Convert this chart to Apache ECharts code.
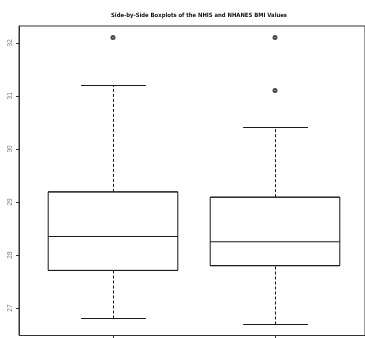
<!DOCTYPE html>
<html>
<head>
<meta charset="utf-8">
<script src="https://cdn.jsdelivr.net/npm/echarts@6/dist/echarts.min.js"></script>
<style>
  html, body { margin: 0; padding: 0; background: #fff; }
  #chart { width: 365px; height: 338px; }
</style>
</head>
<body>
<div id="chart"></div>
<script>
// BMI summaries for the two surveys
const groups = ['NHIS', 'NHANES'];
const lowerWhisker = [26.8, 26.7];
const q1 = [27.71, 27.8];
const median = [28.35, 28.25];
const q3 = [29.19, 29.09];
const upperWhisker = [31.19, 30.4];
const outliers = [
  [0, 32.1],
  [1, 32.1],
  [1, 31.1]
];
const yTicks = [27, 28, 29, 30, 31, 32];

const yMin = 26.484, yMax = 32.316;
const ink = '#1a1a1a';

const chart = echarts.init(document.getElementById('chart'), null, { renderer: 'canvas' });

const boxData = groups.map((g, i) => [q1[i], q1[i], median[i], q3[i], q3[i]]);
const whiskerData = groups.map((g, i) => [i, lowerWhisker[i], q1[i], q3[i], upperWhisker[i]]);

// snap a coordinate to the pixel centre so 1px strokes stay crisp
const crisp = v => Math.round(v - 0.5) + 0.5;

chart.setOption({
  animation: false,
  title: {
    text: 'Side-by-Side Boxplots of the NHIS and NHANES BMI Values',
    left: 194, top: 7, textAlign: 'center',
    textStyle: { fontFamily: '"DejaVu Sans Condensed", "Liberation Sans", sans-serif', fontWeight: 'bold', fontSize: 5.9, color: '#111' }
  },
  grid: [
    { left: 32, top: 26, width: 324, height: 309.5 },
    { left: 19, top: 26, width: 350, height: 309.5, show: true, borderColor: '#333', borderWidth: 1, backgroundColor: 'transparent' }
  ],
  xAxis: [
    {
      type: 'category', data: groups, gridIndex: 0, boundaryGap: true,
      axisLine: { show: false }, axisLabel: { show: false },
      axisTick: { show: true, alignWithLabel: true, length: 4, lineStyle: { color: '#333' } },
      splitLine: { show: false }
    },
    { type: 'value', gridIndex: 1, min: 0, max: 1, show: false }
  ],
  yAxis: [
    {
      type: 'value', gridIndex: 0, min: yMin, max: yMax, offset: 13,
      axisLine: { show: true, lineStyle: { color: '#333', width: 1 } },
      axisTick: { show: true, length: 3, lineStyle: { color: '#333' }, customValues: yTicks },
      axisLabel: {
        show: true, rotate: 90, margin: 5, fontSize: 6.5, color: '#777',
        fontFamily: 'Liberation Sans', customValues: yTicks,
        formatter: v => String(v)
      },
      splitLine: { show: false }
    },
    { type: 'value', gridIndex: 1, min: 0, max: 1, show: false }
  ],
  series: [
    {
      type: 'boxplot', xAxisIndex: 0, yAxisIndex: 0,
      boxWidth: ['80%', '80%'],
      itemStyle: { color: 'transparent', borderColor: ink, borderWidth: 1 },
      data: boxData
    },
    {
      type: 'custom', xAxisIndex: 0, yAxisIndex: 0,
      data: whiskerData,
      encode: { x: 0, y: [1, 2, 3, 4] },
      renderItem: (params, api) => {
        const c = api.value(0);
        const lo = api.coord([c, api.value(1)]);
        const b = api.coord([c, api.value(2)]);
        const t = api.coord([c, api.value(3)]);
        const hi = api.coord([c, api.value(4)]);
        const half = api.size([1, 0])[0] * 0.2;
        const x = crisp(lo[0]);
        const yLo = crisp(lo[1]), yHi = crisp(hi[1]);
        const dash = { stroke: ink, lineWidth: 1, lineDash: [3, 2] };
        const solid = { stroke: ink, lineWidth: 1 };
        return {
          type: 'group',
          children: [
            { type: 'line', shape: { x1: x, y1: yLo, x2: x, y2: b[1] }, style: dash },
            { type: 'line', shape: { x1: x, y1: t[1], x2: x, y2: yHi }, style: dash },
            { type: 'line', shape: { x1: x - half, y1: yLo, x2: x + half, y2: yLo }, style: solid },
            { type: 'line', shape: { x1: x - half, y1: yHi, x2: x + half, y2: yHi }, style: solid }
          ]
        };
      }
    },
    {
      type: 'scatter', xAxisIndex: 0, yAxisIndex: 0,
      symbol: 'emptyCircle', symbolSize: 3,
      itemStyle: { color: ink, borderColor: ink, borderWidth: 0.8 },
      data: outliers
    }
  ]
});
</script>
</body>
</html>
